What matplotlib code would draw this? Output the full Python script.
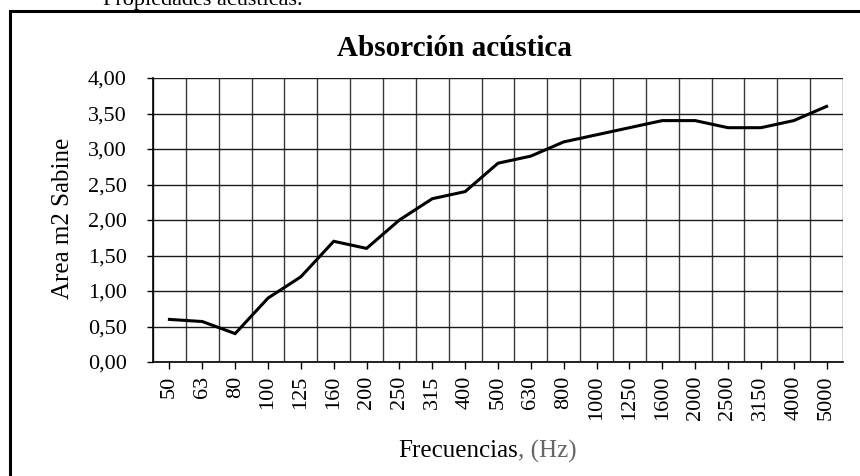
import matplotlib
matplotlib.use("Agg")
import matplotlib.pyplot as plt
from matplotlib.patches import Rectangle
from matplotlib.ticker import FuncFormatter

plt.rcParams['font.family'] = ['Liberation Serif', 'DejaVu Serif']

frequencies = ["50", "63", "80", "100", "125", "160", "200", "250", "315", "400",
               "500", "630", "800", "1000", "1250", "1600", "2000", "2500", "3150",
               "4000", "5000"]
absorption = [0.60, 0.57, 0.40, 0.90, 1.20, 1.70, 1.60, 2.00, 2.30, 2.40,
              2.80, 2.90, 3.10, 3.20, 3.30, 3.40, 3.40, 3.30, 3.30, 3.40, 3.60]
y_ticks = [0.0, 0.5, 1.0, 1.5, 2.0, 2.5, 3.0, 3.5, 4.0]

W, H = 860, 476
fig = plt.figure(figsize=(W / 100, H / 100), dpi=100)
fig.patch.set_facecolor('white')

# outer chart frame (extends beyond the right and bottom edges)
fig.patches.append(Rectangle((10 / W, -0.05), 1.2, (H - 11) / H + 0.05,
                             transform=fig.transFigure, fill=False,
                             edgecolor='black', linewidth=2.2, zorder=0))

# caption text cut at the top
fig.text(103 / W, 1 - 5 / H, "Propiedades acústicas.", fontsize=16,
         ha='left', va='baseline', color='black')

ax = fig.add_axes([153 / W, (H - 362) / H, (843 - 153) / W, (362 - 78) / H])
x = list(range(len(frequencies)))
ax.plot(x, absorption, color='black', linewidth=2.2, zorder=3,
        solid_joinstyle='miter')

ax.set_xlim(-0.5, len(frequencies) - 0.5)
ax.set_ylim(0, 4)

# gridlines at category boundaries and y ticks
for k in range(len(frequencies) + 1):
    ax.axvline(k - 0.5, color='#3a3a3a', linewidth=1.0, zorder=1)
for yv in y_ticks:
    ax.axhline(yv, color='#1a1a1a', linewidth=1.0, zorder=1)

ax.set_xticks(x)
ax.set_xticklabels(frequencies, rotation=90, fontsize=16)
ax.set_yticks(y_ticks)
ax.yaxis.set_major_formatter(FuncFormatter(lambda v, p: f"{v:.2f}".replace('.', ',')))
ax.tick_params(axis='y', labelsize=16, length=4, width=1, direction='out', pad=15)
ax.tick_params(axis='x', length=5, width=1, direction='out', pad=5)

for s in ['top', 'right']:
    ax.spines[s].set_visible(False)
for s in ['left', 'bottom']:
    ax.spines[s].set_color('black')
    ax.spines[s].set_linewidth(1.2)

fig.text(63 / W, 1 - 218 / H, "Area m2 Sabine", fontsize=18, rotation=90,
         ha='center', va='center')
fig.text(518 / W, 1 - 451 / H, "Frecuencias", fontsize=18, ha='right', va='center')
fig.text(518 / W, 1 - 451 / H, ", (Hz)", fontsize=18, ha='left', va='center', color='#666666')

fig.text(454 / W, 1 - 48 / H, "Absorción acústica", fontsize=21, fontweight='bold',
         ha='center', va='center')

fig.savefig("out.png", dpi=100, facecolor='white')
